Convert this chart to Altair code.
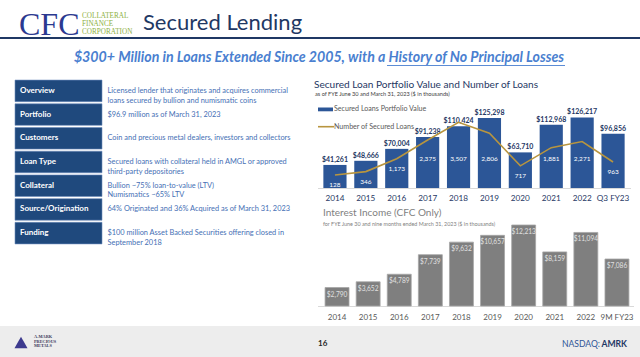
import altair as alt
import pandas as pd

# ---------------- data ----------------
page_title = "Secured Lending"
logo_letters = "CFC"
logo_words = ["COLLATERAL", "FINANCE", "CORPORATION"]
headline = "$300+ Million in Loans Extended Since 2005, with a History of No Principal Losses"

row_labels = ["Overview", "Portfolio", "Customers", "Loan Type",
              "Collateral", "Source/Origination", "Funding"]
row_texts = [
    ["Licensed lender that originates and acquires commercial",
     "loans secured by bullion and numismatic coins"],
    ["$96.9 million as of March 31, 2023"],
    ["Coin and precious metal dealers, investors and collectors"],
    ["Secured loans with collateral held in AMGL or approved",
     "third-party depositories"],
    ["Bullion ~75% loan-to-value (LTV)", "Numismatics ~65% LTV"],
    ["64% Originated and 36% Acquired as of March 31, 2023"],
    ["$100 million Asset Backed Securities offering closed in",
     "September 2018"],
]

loan_years = ["2014", "2015", "2016", "2017", "2018", "2019", "2020",
              "2021", "2022", "Q3 FY23"]
portfolio_value = [41261, 48666, 70004, 91238, 110424, 125298, 63710,
                   112968, 126217, 96856]
loan_count = [128, 346, 1173, 2375, 3507, 2806, 717, 1881, 2271, 963]

income_years = ["2014", "2015", "2016", "2017", "2018", "2019", "2020",
                "2021", "2022", "9M FY23"]
interest_income = [2790, 3652, 4789, 7739, 9632, 10657, 12213, 8159,
                   11094, 7086]

top_title = "Secured Loan Portfolio Value and Number of Loans"
top_sub = "as of FYE June 30 and March 31, 2023 ($ in thousands)"
legend_bar = "Secured Loans Portfolio Value"
legend_line = "Number of Secured Loans"
bot_title = "Interest Income (CFC Only)"
bot_sub = "for FYE June 30 and nine months ended March 31, 2023 ($ in thousands)"
page_no = "16"

# ---------------- helpers ----------------
FONT = "Lato"
one = pd.DataFrame({"k": [1]})


def txt(s, x, y, size, color, weight="normal", align="left",
        baseline="middle", font=FONT, italic=False, **kw):
    args = dict(text=s, fontSize=size, color=color, fontWeight=weight,
                align=align, baseline=baseline, font=font, **kw)
    if italic:
        args["fontStyle"] = "italic"
    return alt.Chart(one).mark_text(**args).encode(
        x=alt.value(x), y=alt.value(y))


def box(x, x2, y, y2, color, **kw):
    return alt.Chart(one).mark_rect(color=color, **kw).encode(
        x=alt.value(x), x2=alt.value(x2), y=alt.value(y), y2=alt.value(y2))


def hline(x, x2, y, color, width):
    return alt.Chart(one).mark_rule(color=color, strokeWidth=width).encode(
        x=alt.value(x), x2=alt.value(x2), y=alt.value(y))


layers = []

# ---------------- header ----------------
layers.append(txt(logo_letters, 19, 35, 32, "#2B3990", baseline="alphabetic",
                  font="Liberation Serif"))
layers.append(txt(logo_words, 82, 16, 7.2, "#8DB03E", font="Liberation Serif",
                  lineHeight=7.9))
layers.append(txt(page_title, 143, 30, 22, "#1F3864", baseline="alphabetic"))
layers.append(hline(0, 640, 38, "#1F3864", 2))
layers.append(txt(headline, 319, 58, 14.2, "#4A7FD0", weight="bold",
                  align="center", italic=True))
layers.append(hline(387, 565, 65.5, "#4A7FD0", 0.9))

# ---------------- table ----------------
tbl = pd.DataFrame({"lab": row_labels, "desc": row_texts})
ys_tbl = alt.Scale(type="band", domain=row_labels, range=[79, 245],
                   paddingInner=0.09, paddingOuter=0.045)
layers.append(alt.Chart(tbl).mark_rect(color="#1F497D", stroke="#6E8DBE",
                                       strokeWidth=0.6).encode(
    x=alt.value(15), x2=alt.value(102),
    y=alt.Y("lab:N", scale=ys_tbl, axis=None)))
layers.append(alt.Chart(tbl).mark_text(align="left", baseline="middle",
                                       fontSize=8, fontWeight="bold",
                                       color="white", font=FONT).encode(
    x=alt.value(20),
    y=alt.Y("lab:N", scale=ys_tbl, axis=None, bandPosition=0.5),
    text="lab:N"))
layers.append(alt.Chart(tbl).mark_text(align="left", baseline="middle",
                                       fontSize=7.4, color="#4670B5",
                                       font=FONT, lineHeight=9.7).encode(
    x=alt.value(107.5),
    y=alt.Y("lab:N", scale=ys_tbl, axis=None, bandPosition=0.5),
    text="desc"))

# ---------------- top chart ----------------
top = pd.DataFrame({"ty": loan_years, "pv": portfolio_value, "nl": loan_count})
xs_top = alt.Scale(type="band", domain=loan_years, range=[319.5, 628.5],
                   paddingInner=0.25, paddingOuter=0.125)
ys_top = alt.Scale(domain=[0, 140000], range=[188, 109.74])
ys_loan = alt.Scale(domain=[0, 4000], range=[177, 114.6])
X_top = alt.X("ty:N", scale=xs_top, axis=None, bandPosition=0.5)

layers.append(txt(top_title, 314, 85, 10.1, "#1F3864"))
layers.append(txt(top_sub, 315, 94, 5.6, "#404040"))
layers.append(hline(318, 631, 188.5, "#D9D9D9", 1))
layers.append(alt.Chart(top).mark_bar(color="#2C5697").encode(
    x=alt.X("ty:N", scale=xs_top, axis=None),
    y=alt.Y("pv:Q", scale=ys_top, axis=None)))
layers.append(alt.Chart(top).transform_calculate(
    lab="'$' + format(datum.pv, ',')").mark_text(
    baseline="bottom", dy=-2, fontSize=7, fontWeight="bold",
    color="#1F3864", font=FONT).encode(
    x=X_top, y=alt.Y("pv:Q", scale=ys_top, axis=None), text="lab:N"))
layers.append(alt.Chart(top).mark_line(color="#B8953F", strokeWidth=1.6).encode(
    x=X_top, y=alt.Y("nl:Q", scale=ys_loan, axis=None)))
layers.append(alt.Chart(top).transform_calculate(
    ly="min(datum.nl - 641, 1154)",
    lab="format(datum.nl, ',')").mark_text(
    baseline="middle", fontSize=6.5, color="white", font=FONT).encode(
    x=X_top, y=alt.Y("ly:Q", scale=ys_loan, axis=None), text="lab:N"))
layers.append(alt.Chart(top).mark_text(
    baseline="middle", fontSize=8.2, color="#1F3864", font=FONT).encode(
    x=X_top, y=alt.value(198.5), text="ty:N"))
# legend
layers.append(box(318, 333, 107.5, 111.3, "#2C5697"))
layers.append(txt(legend_bar, 334, 109.4, 7.1, "#595959"))
layers.append(hline(318, 334, 126.7, "#B8953F", 1.6))
layers.append(txt(legend_line, 334, 126.7, 7.1, "#595959"))

# ---------------- bottom chart ----------------
bot = pd.DataFrame({"by": income_years, "ii": interest_income})
xs_bot = alt.Scale(type="band", domain=income_years, range=[321.5, 632.5],
                   paddingInner=0.23, paddingOuter=0.115)
ys_bot = alt.Scale(domain=[0, 13000], range=[306, 219.8])
X_bot = alt.X("by:N", scale=xs_bot, axis=None, bandPosition=0.5)

layers.append(txt(bot_title, 323, 213, 10, "#7F7F7F"))
layers.append(txt(bot_sub, 323, 224, 5.4, "#7F7F7F"))
layers.append(hline(318, 634, 306.5, "#D9D9D9", 1))
layers.append(alt.Chart(bot).mark_bar(color="#7F7F7F", stroke="#A6A6A6",
                                      strokeWidth=0.8).encode(
    x=alt.X("by:N", scale=xs_bot, axis=None),
    y=alt.Y("ii:Q", scale=ys_bot, axis=None)))
layers.append(alt.Chart(bot).transform_calculate(
    lab="'$' + format(datum.ii, ',')").mark_text(
    baseline="middle", dy=7, fontSize=6.6, color="#E0E0E0", font=FONT).encode(
    x=X_bot, y=alt.Y("ii:Q", scale=ys_bot, axis=None), text="lab:N"))
layers.append(alt.Chart(bot).mark_text(
    baseline="middle", fontSize=8, color="#595959", font=FONT).encode(
    x=X_bot, y=alt.value(317.5), text="by:N"))

# ---------------- footer ----------------
layers.append(box(0, 640, 326, 357, "#EDEDED"))
layers.append(alt.Chart(one).mark_point(shape="triangle-up", filled=True,
                                        color="#3D3A8E", size=170, opacity=1).encode(
    x=alt.value(21), y=alt.value(342.5)))
layers.append(txt(["A-MARK", "PRECIOUS", "METALS"], 34, 337, 4.3, "#3A3A5A",
                  weight="bold", font="Liberation Sans Narrow", lineHeight=4.6))
layers.append(txt(page_no, 322.7, 344, 8, "#262626", weight="bold",
                  align="center"))
layers.append(txt("NASDAQ:", 600, 344, 8.6, "#2F5597", align="right"))
layers.append(txt("AMRK", 627, 344, 8.6, "#1F3864", weight="bold",
                  align="right"))

chart = alt.layer(*layers).resolve_scale(
    x="independent", y="independent"
).properties(
    width=640, height=357, padding=0, background="white",
    autosize=alt.AutoSizeParams(type="none")
).configure_view(stroke=None)

chart.save("out.html", embed_options={"renderer": "svg", "actions": False})
